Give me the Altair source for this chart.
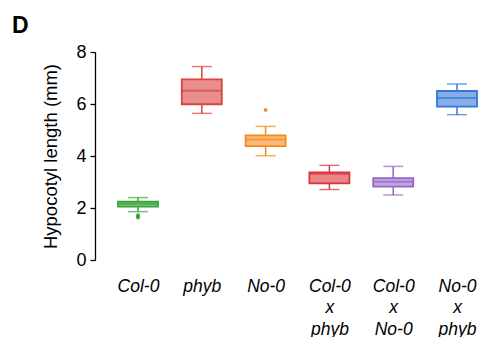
import altair as alt
import pandas as pd

genotypes = ["Col-0", "phyb", "No-0", "Col-0|x|phyb", "Col-0|x|No-0", "No-0|x|phyb"]
lower = [1.86, 5.64, 4.01, 2.71, 2.50, 5.59]
q1 = [2.05, 5.99, 4.38, 2.95, 2.82, 5.90]
median = [2.15, 6.51, 4.63, 3.32, 3.01, 6.23]
q3 = [2.24, 6.95, 4.79, 3.37, 3.15, 6.50]
upper = [2.40, 7.44, 5.14, 3.64, 3.60, 6.77]
colors = ["#3aa63a", "#d8453f", "#f58a1f", "#d9363b", "#9467c8", "#3576d9"]

out_geno = ["Col-0", "Col-0", "Col-0", "No-0"]
out_vals = [1.73, 1.68, 1.63, 5.77]

panel_label = ["D"]

df = pd.DataFrame({"g": genotypes, "lower": lower, "q1": q1, "median": median,
                   "q3": q3, "upper": upper})
dfo = pd.DataFrame({"g": out_geno, "v": out_vals})
dfl = pd.DataFrame({"t": panel_label})

FONT = "Liberation Sans"

xscale = alt.Scale(type="point", range=[43, 362], padding=0)
x = alt.X("g:N", sort=genotypes, scale=xscale,
          axis=alt.Axis(title=None, labelExpr="split(datum.label, '|')", labelAngle=0,
                        domain=False, ticks=False, labelFontStyle="italic",
                        labelFontSize=17.5, labelLineHeight=21.5, labelPadding=17,
                        labelColor="black", labelFont=FONT))
yscale = alt.Scale(domain=[0, 8], nice=False)
yaxis = alt.Axis(title="Hypocotyl length (mm)", values=[0, 2, 4, 6, 8], grid=False,
                 tickSize=5, domainColor="black", tickColor="black", labelFontSize=18,
                 titleFontSize=18.5, labelColor="black", titleColor="black",
                 titleFontWeight="normal", labelPadding=4, titlePadding=15,
                 labelFont=FONT, titleFont=FONT, domainWidth=1.3, tickWidth=1.3)
cscale = alt.Scale(domain=genotypes, range=colors)

base = alt.Chart(df).encode(x=x)

w_lo = base.mark_rule(strokeWidth=1.5).encode(
    y=alt.Y("lower:Q", scale=yscale, axis=yaxis), y2="q1:Q",
    color=alt.Color("g:N", scale=cscale, legend=None))
w_hi = base.mark_rule(strokeWidth=1.5).encode(
    y=alt.Y("q3:Q", scale=yscale), y2="upper:Q",
    color=alt.Color("g:N", scale=cscale, legend=None))
cap_lo = base.mark_tick(size=20, thickness=1.5).encode(
    y=alt.Y("lower:Q", scale=yscale), color=alt.Color("g:N", scale=cscale, legend=None))
cap_hi = base.mark_tick(size=20, thickness=1.5).encode(
    y=alt.Y("upper:Q", scale=yscale), color=alt.Color("g:N", scale=cscale, legend=None))
box = base.mark_bar(size=40, fillOpacity=0.6, strokeWidth=1.8).encode(
    y=alt.Y("q1:Q", scale=yscale), y2="q3:Q",
    fill=alt.Fill("g:N", scale=cscale, legend=None),
    stroke=alt.Stroke("g:N", scale=cscale, legend=None))
med = base.mark_tick(size=40, thickness=2).encode(
    y=alt.Y("median:Q", scale=yscale), color=alt.Color("g:N", scale=cscale, legend=None))
outl = alt.Chart(dfo).mark_circle(size=14, opacity=1).encode(
    x=alt.X("g:N", sort=genotypes, scale=xscale),
    y=alt.Y("v:Q", scale=yscale),
    color=alt.Color("g:N", scale=cscale, legend=None))
lbl = alt.Chart(dfl).mark_text(font=FONT, fontSize=23, fontWeight="bold", color="black",
                               align="left", baseline="alphabetic").encode(
    x=alt.value(-83), y=alt.value(-19), text="t:N")

chart = alt.layer(w_lo, w_hi, cap_lo, cap_hi, box, med, outl, lbl).properties(
    width=383, height=208,
    autosize=alt.AutoSizeParams(type="none"),
    padding={"left": 87, "top": 44, "right": 0, "bottom": 77},
).configure_view(stroke=None)

chart.save("out.html", embed_options={"renderer": "svg", "actions": False})
